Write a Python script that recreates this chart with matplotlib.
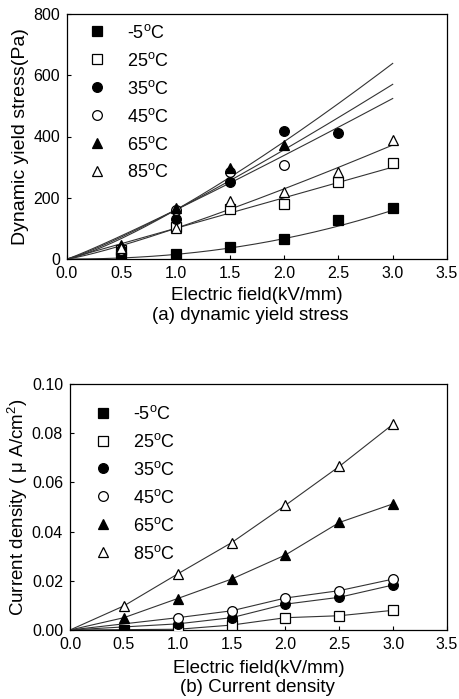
import numpy as np
import matplotlib
matplotlib.use("Agg")
import matplotlib.pyplot as plt

plt.rcParams['font.family'] = ['Liberation Sans', 'DejaVu Sans']
plt.rcParams['mathtext.fontset'] = 'custom'
plt.rcParams['mathtext.rm'] = 'Liberation Sans'

field = [0.5, 1.0, 1.5, 2.0, 2.5, 3.0]
labels = ["-5$^\\mathregular{o}$C", "25$^\\mathregular{o}$C", "35$^\\mathregular{o}$C",
          "45$^\\mathregular{o}$C", "65$^\\mathregular{o}$C", "85$^\\mathregular{o}$C"]

# (a) dynamic yield stress (Pa)
stress_m5 = [5, 15, 40, 65, 128, 168]
stress_25 = [30, 105, 162, 178, 250, 313]
stress_35 = [25, 130, 250, 417, 413]
stress_45 = [30, 160, 285, 308]
stress_65 = [45, 168, 297, 372]
stress_85 = [35, 100, 188, 218, 285, 388]
# power-law fit curves y = a * E^n
fit_a = [15, 100, 160, 160, 160, 100]
fit_n = [2.15, 1.0, 1.157, 1.08, 1.26, 1.196]

# (b) current density (uA/cm^2)
cur_field_m5 = [0.5]
cur_m5 = [0.0002]
cur_field_25 = [1.0, 1.5, 2.0, 2.5, 3.0]
cur_25 = [0.0003, 0.002, 0.005, 0.0058, 0.008]
cur_field_35 = [1.0, 1.5, 2.0, 2.5, 3.0]
cur_35 = [0.0025, 0.005, 0.0105, 0.0133, 0.0183]
cur_field_45 = [1.0, 1.5, 2.0, 2.5, 3.0]
cur_45 = [0.005, 0.0078, 0.013, 0.016, 0.0207]
cur_field_65 = [0.5, 1.0, 1.5, 2.0, 2.5, 3.0]
cur_65 = [0.005, 0.0128, 0.0207, 0.0305, 0.0437, 0.0513]
cur_field_85 = [0.5, 1.0, 1.5, 2.0, 2.5, 3.0]
cur_85 = [0.0098, 0.0228, 0.0355, 0.0507, 0.0665, 0.0837]

markers = ['s', 's', 'o', 'o', '^', '^']
filled = [True, False, True, False, True, False]

W, H = 460, 699
fig = plt.figure(figsize=(W / 100, H / 100), dpi=100)

def rect(l, t, r, b):
    return [l / W, 1 - b / H, (r - l) / W, (b - t) / H]

ax1 = fig.add_axes(rect(67, 14, 447, 259))
ax2 = fig.add_axes(rect(70, 384, 447, 630))

def scatter_series(ax, xs_list, series):
    for i, (xs, ys) in enumerate(zip(xs_list, series)):
        fc = 'black' if filled[i] else 'white'
        ax.plot(xs, ys, linestyle='none', marker=markers[i], ms=7,
                mfc=fc, mec='black', mew=0.9, label=labels[i], zorder=3)

# top panel
xg = np.linspace(0, 3.0, 200)
for a, n in zip(fit_a, fit_n):
    ax1.plot(xg, a * xg ** n, color='#333333', lw=0.8, zorder=2)
top = [stress_m5, stress_25, stress_35, stress_45, stress_65, stress_85]
scatter_series(ax1, [field[:len(s)] for s in top], top)
ax1.set_xlim(0, 3.5)
ax1.set_ylim(0, 800)
ax1.set_xticks(np.arange(0, 3.51, 0.5))
ax1.set_yticks([0, 200, 400, 600, 800])
ax1.set_xlabel("Electric field(kV/mm)", fontsize=13.5, labelpad=4)
ax1.set_ylabel("Dynamic yield stress(Pa)", fontsize=14, labelpad=3)
fig.text(250 / W, 1 - 315 / H, "(a) dynamic yield stress", ha='center', va='center', fontsize=13.5)

# bottom panel
bx = [cur_field_m5, cur_field_25, cur_field_35, cur_field_45, cur_field_65, cur_field_85]
by = [cur_m5, cur_25, cur_35, cur_45, cur_65, cur_85]
for xs, ys in zip(bx[1:], by[1:]):
    ax2.plot([0.0] + xs, [0.0] + ys, color='#333333', lw=0.8, zorder=2)
scatter_series(ax2, bx, by)
ax2.set_xlim(0, 3.5)
ax2.set_ylim(0, 0.10)
ax2.set_xticks(np.arange(0, 3.51, 0.5))
ax2.set_yticks([0.0, 0.02, 0.04, 0.06, 0.08, 0.10])
ax2.yaxis.set_major_formatter(matplotlib.ticker.FormatStrFormatter('%.2f'))
ax2.set_xlabel("Electric field(kV/mm)", fontsize=13.5, labelpad=6)
ax2.set_ylabel("Current density ( \u03bc A/cm$^\\mathregular{2}$)", fontsize=13.5, labelpad=1)
fig.text(257 / W, 1 - 687 / H, "(b) Current density", ha='center', va='center', fontsize=13.5)

for ax, anchor in ((ax1, (0.055, 0.96)), (ax2, (0.064, 0.915))):
    ax.tick_params(direction='in', length=3, width=0.8, labelsize=11.5,
                   top=False, right=False)
    ax.tick_params(axis='x', pad=5)
    ax.tick_params(axis='y', pad=5)
    for s in ax.spines.values():
        s.set_linewidth(0.9)
    ax.legend(loc='upper left', bbox_to_anchor=anchor, frameon=False,
              fontsize=13, labelspacing=0.55, handletextpad=1.15, handlelength=1.0,
              borderaxespad=0.0, borderpad=0.0)

fig.savefig("out.png", dpi=100)
